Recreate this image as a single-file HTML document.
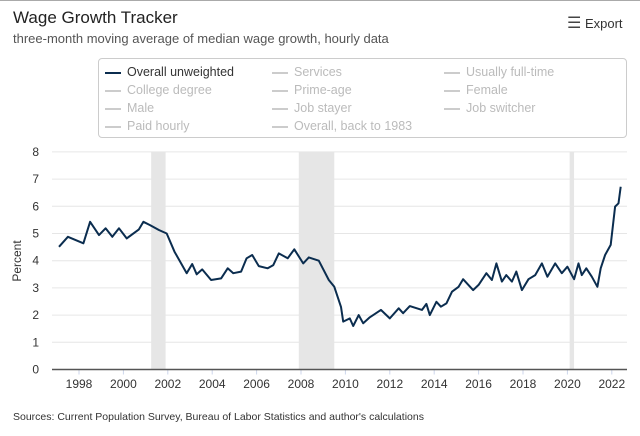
<!DOCTYPE html>
<html><head><meta charset="utf-8"><style>
body{margin:0;width:640px;height:436px;background:#fff;font-family:"Liberation Sans",sans-serif;overflow:hidden;position:relative}
.t{position:absolute;white-space:nowrap}
.leg{position:absolute;left:98px;top:58px;width:529px;height:80px;border:1px solid #ccc;border-radius:4px;box-sizing:border-box}
.li{position:absolute;font-size:12.5px;color:#bbb;white-space:nowrap}
.li span{display:inline-block;width:16px;height:2px;background:#ccc;vertical-align:middle;margin-right:6px}
</style></head><body>
<div style="position:absolute;left:0;top:0;width:640px;height:1px;background:#aaa"></div>
<div class="t" style="left:13px;top:8px;font-size:17px;color:#222">Wage Growth Tracker</div>
<div class="t" style="left:13px;top:31px;font-size:13px;color:#555">three-month moving average of median wage growth, hourly data</div>
<div class="t" style="left:567px;top:13px;font-size:13px;color:#333"><span style="font-size:16px;color:#444">&#9776;</span> Export</div>
<div class="leg">
<div class="li" style="left:6px;top:6px;color:#333"><span style="background:#0b2d4f"></span>Overall unweighted</div>
<div class="li" style="left:173px;top:6px"><span></span>Services</div>
<div class="li" style="left:345px;top:6px"><span></span>Usually full-time</div>
<div class="li" style="left:6px;top:24px"><span></span>College degree</div>
<div class="li" style="left:173px;top:24px"><span></span>Prime-age</div>
<div class="li" style="left:345px;top:24px"><span></span>Female</div>
<div class="li" style="left:6px;top:42px"><span></span>Male</div>
<div class="li" style="left:173px;top:42px"><span></span>Job stayer</div>
<div class="li" style="left:345px;top:42px"><span></span>Job switcher</div>
<div class="li" style="left:6px;top:60px"><span></span>Paid hourly</div>
<div class="li" style="left:173px;top:60px"><span></span>Overall, back to 1983</div>
</div>
<svg id="chart" width="640" height="436" style="position:absolute;left:0;top:0"></svg>
<div class="t" style="left:13px;top:411px;font-size:10.5px;color:#333">Sources: Current Population Survey, Bureau of Labor Statistics and author's calculations</div>
<script>
const years=[1997.1,1997.5,1998.2,1998.5,1998.9,1999.2,1999.5,1999.8,2000.15,2000.7,2000.9,2001.2,2001.6,2001.95,2002.3,2002.85,2003.1,2003.3,2003.55,2003.95,2004.4,2004.7,2004.95,2005.3,2005.55,2005.8,2006.1,2006.5,2006.75,2007.0,2007.4,2007.7,2008.1,2008.35,2008.8,2009.25,2009.5,2009.8,2009.9,2010.2,2010.35,2010.6,2010.8,2011.1,2011.6,2012.0,2012.4,2012.6,2012.9,2013.45,2013.65,2013.8,2014.1,2014.3,2014.55,2014.8,2015.1,2015.3,2015.75,2016.0,2016.35,2016.6,2016.8,2017.05,2017.25,2017.5,2017.7,2017.95,2018.25,2018.55,2018.85,2019.1,2019.45,2019.75,2020.0,2020.3,2020.5,2020.65,2020.85,2021.1,2021.35,2021.5,2021.7,2021.95,2022.15,2022.3,2022.4];
const values=[4.51,4.88,4.64,5.43,4.94,5.19,4.88,5.19,4.82,5.15,5.43,5.31,5.13,5.0,4.33,3.54,3.88,3.5,3.68,3.29,3.35,3.72,3.54,3.6,4.09,4.21,3.8,3.72,3.84,4.27,4.09,4.42,3.9,4.12,4.0,3.29,3.04,2.3,1.76,1.88,1.6,2.0,1.7,1.92,2.19,1.88,2.25,2.07,2.33,2.19,2.41,2.0,2.49,2.31,2.43,2.86,3.04,3.32,2.92,3.11,3.54,3.29,3.9,3.23,3.47,3.23,3.6,2.92,3.32,3.47,3.9,3.41,3.9,3.54,3.78,3.32,3.9,3.47,3.72,3.41,3.04,3.72,4.21,4.58,5.99,6.11,6.72];
const recessions=[[2001.25,2001.9],[2007.9,2009.5],[2020.1,2020.3]];
const yTicks=[0,1,2,3,4,5,6,7,8];
const xTicks=[1998,2000,2002,2004,2006,2008,2010,2012,2014,2016,2018,2020,2022];
const NS='http://www.w3.org/2000/svg',svg=document.getElementById('chart');
const L=52,R=627;
const x=v=>79+(v-1998)*22.2, y=v=>369.5-v*27.2;
function mk(t,a){const e=document.createElementNS(NS,t);for(const k in a)e.setAttribute(k,a[k]);svg.appendChild(e);return e;}
recessions.forEach(r=>{const e=mk('rect',{x:x(r[0]),y:y(8),width:x(r[1])-x(r[0]),height:y(0)-y(8),fill:'#e6e6e6'});

});
yTicks.forEach(t=>{if(t>0){const g=mk('line',{x1:L,x2:R,y1:y(t),y2:y(t),stroke:'#e6e6e6','stroke-width':1});

}
const tx=mk('text',{x:39,y:y(t)+4,'text-anchor':'end','font-size':12,fill:'#333','font-family':'Liberation Sans'});tx.textContent=t;

});
xTicks.forEach(t=>{const k=mk('line',{x1:x(t),x2:x(t),y1:y(0),y2:y(0)+5,stroke:'#ccd6eb'});


const tx=mk('text',{x:x(t),y:388,'text-anchor':'middle','font-size':12,fill:'#333','font-family':'Liberation Sans'});tx.textContent=t;

});
const ax=mk('line',{x1:L,x2:R,y1:y(0),y2:y(0),stroke:'#555','stroke-width':1.5});


const yt=mk('text',{x:0,y:0,transform:'translate(21,261) rotate(-90)','text-anchor':'middle','font-size':12,fill:'#333','font-family':'Liberation Sans'});yt.textContent='Percent';


const p=mk('path',{d:years.map((v,i)=>(i?'L':'M')+x(v).toFixed(1)+','+y(values[i]).toFixed(1)).join(''),fill:'none',stroke:'#0b2d4f','stroke-width':2,'stroke-linejoin':'round'});


</script>
</body></html>
